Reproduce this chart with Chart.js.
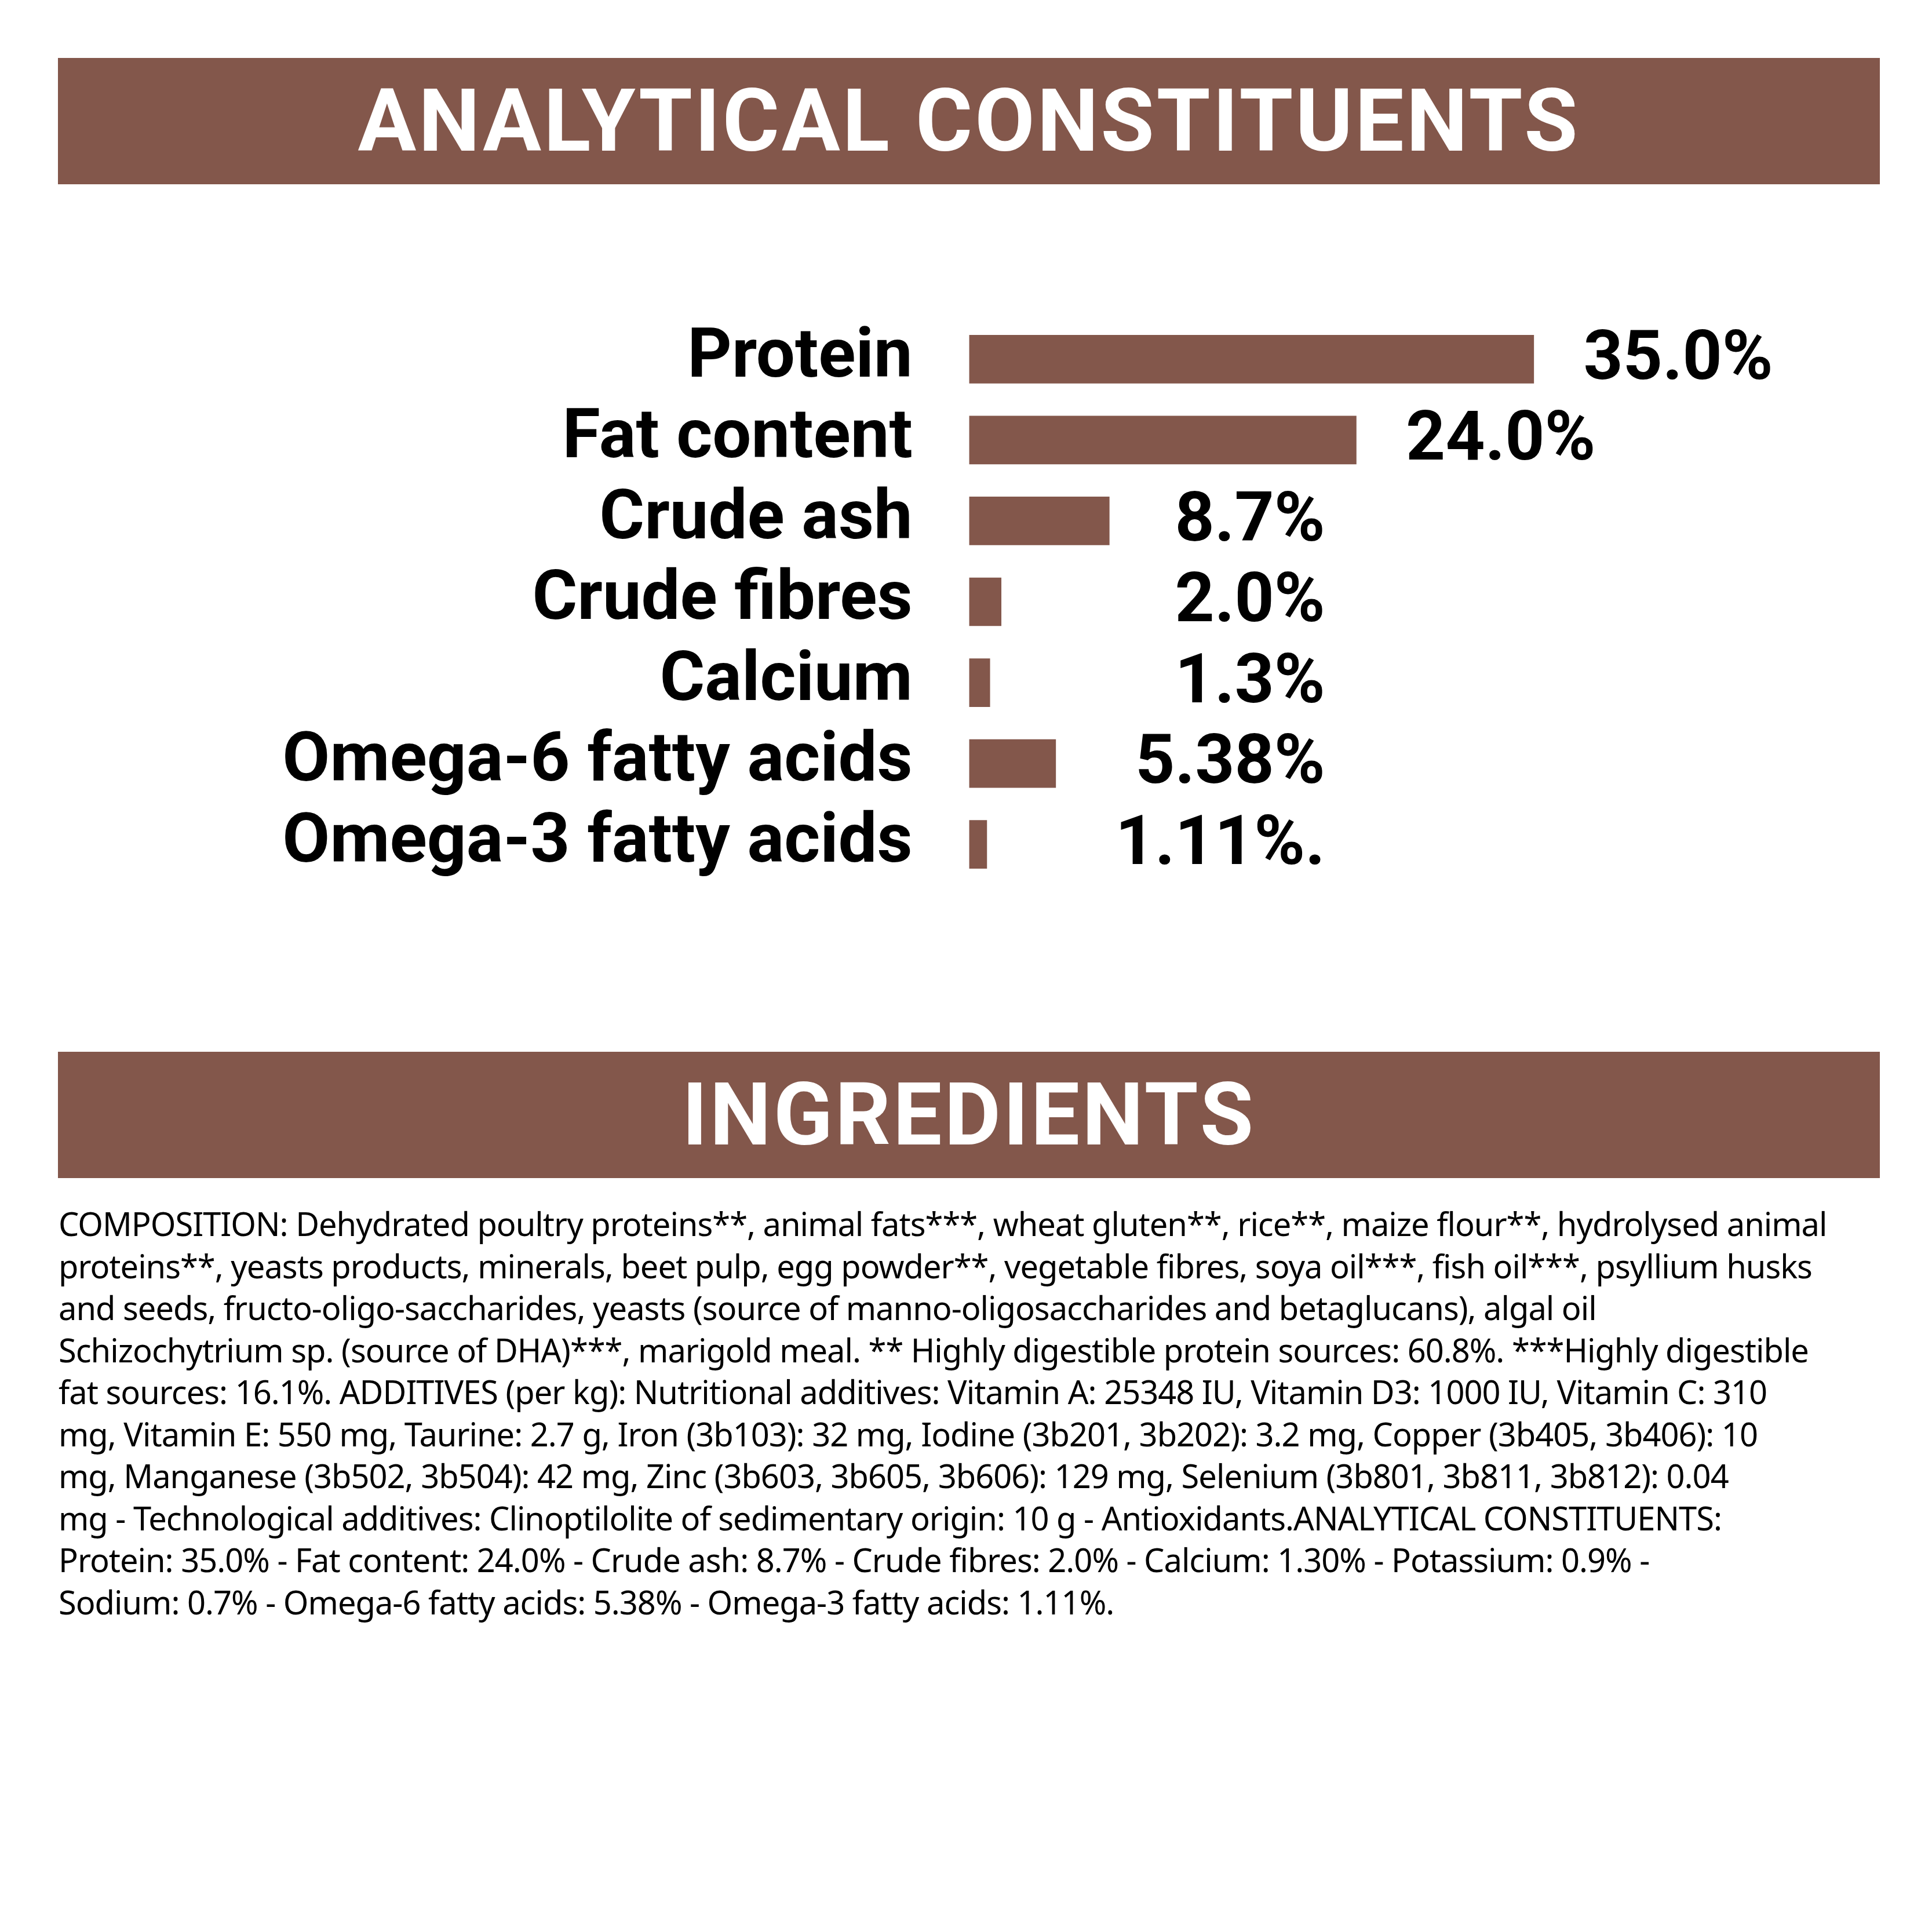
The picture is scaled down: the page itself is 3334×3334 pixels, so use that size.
<!DOCTYPE html>
<html><head><meta charset="utf-8">
<script src="https://cdn.jsdelivr.net/npm/chart.js@4"></script>
<style>
html,body{margin:0;padding:0;background:#fff;}
body{width:3334px;height:3334px;position:relative;overflow:hidden;}
.hdr{position:absolute;left:100px;width:3144px;height:218px;background:#83574b;color:#fff;
 font-family:Roboto,sans-serif;font-weight:700;font-size:150px;text-align:center;line-height:218px;letter-spacing:4px;}
#c{position:absolute;left:0;top:389px;width:3334px;height:1299px;}
#txt{position:absolute;left:101px;top:2075px;width:3150px;font-family:'Noto Sans',sans-serif;
 font-size:56px;line-height:72.5px;color:#000;white-space:nowrap;letter-spacing:-1px;}
</style></head><body>
<div class="hdr" style="top:100px">ANALYTICAL CONSTITUENTS</div>
<canvas id="c" width="3334" height="1299"></canvas>
<div class="hdr" style="top:1815px">INGREDIENTS</div>
<div id="txt">COMPOSITION: Dehydrated poultry proteins**, animal fats***, wheat gluten**, rice**, maize flour**, hydrolysed animal<br>
proteins**, yeasts products, minerals, beet pulp, egg powder**, vegetable fibres, soya oil***, fish oil***, psyllium husks<br>
and seeds, fructo-oligo-saccharides, yeasts (source of manno-oligosaccharides and betaglucans), algal oil<br>
Schizochytrium sp. (source of DHA)***, marigold meal. ** Highly digestible protein sources: 60.8%. ***Highly digestible<br>
fat sources: 16.1%. ADDITIVES (per kg): Nutritional additives: Vitamin A: 25348 IU, Vitamin D3: 1000 IU, Vitamin C: 310<br>
mg, Vitamin E: 550 mg, Taurine: 2.7 g, Iron (3b103): 32 mg, Iodine (3b201, 3b202): 3.2 mg, Copper (3b405, 3b406): 10<br>
mg, Manganese (3b502, 3b504): 42 mg, Zinc (3b603, 3b605, 3b606): 129 mg, Selenium (3b801, 3b811, 3b812): 0.04<br>
mg - Technological additives: Clinoptilolite of sedimentary origin: 10 g - Antioxidants.ANALYTICAL CONSTITUENTS:<br>
Protein: 35.0% - Fat content: 24.0% - Crude ash: 8.7% - Crude fibres: 2.0% - Calcium: 1.30% - Potassium: 0.9% -<br>
Sodium: 0.7% - Omega-6 fatty acids: 5.38% - Omega-3 fatty acids: 1.11%.</div>
<script>
const categories = ['Protein', 'Fat content', 'Crude ash', 'Crude fibres', 'Calcium', 'Omega-6 fatty acids', 'Omega-3 fatty acids'];
const values = [35.0, 24.0, 8.7, 2.0, 1.3, 5.38, 1.11];
const valueLabels = ['35.0%', '24.0%', '8.7%', '2.0%', '1.3%', '5.38%', '1.11%.'];

const S = 3334 / 1563;
const fontSize = Math.round(56 * S);
const labelFont = '700 ' + fontSize + 'px Roboto, sans-serif';

const valuePlugin = {
  id: 'vals',
  afterDatasetsDraw(chart) {
    const ctx = chart.ctx;
    const meta = chart.getDatasetMeta(0);
    const rightEdge = 1072 * S;
    ctx.save();
    ctx.font = labelFont;
    ctx.fillStyle = '#000';
    ctx.textBaseline = 'middle';
    meta.data.forEach((bar, i) => {
      const t = valueLabels[i];
      const w = ctx.measureText(t).width;
      const start = bar.x + 40 * S;
      if (start + w > rightEdge) { ctx.textAlign = 'left'; ctx.fillText(t, start, bar.y + 4); }
      else { ctx.textAlign = 'right'; ctx.fillText(t, rightEdge, bar.y + 4); }
    });
    ctx.restore();
  }
};

new Chart(document.getElementById('c'), {
  type: 'bar',
  data: {
    labels: categories,
    datasets: [{ data: values, backgroundColor: '#83574b', barPercentage: 0.6, categoryPercentage: 1 }]
  },
  options: {
    indexAxis: 'y',
    responsive: false,
    devicePixelRatio: 1,
    animation: false,
    layout: { padding: 0 },
    plugins: { legend: { display: false }, tooltip: { enabled: false } },
    scales: {
      x: { display: false, min: 0, max: (1563 - 784) / (457 / 35) },
      y: {
        grid: { display: false },
        border: { display: false },
        afterFit(scale) { scale.width = 784 * S; },
        ticks: { color: '#000', padding: 42 * S, font: { family: 'Roboto', weight: '700', size: fontSize } }
      }
    }
  },
  plugins: [valuePlugin]
});
</script>
</body></html>
